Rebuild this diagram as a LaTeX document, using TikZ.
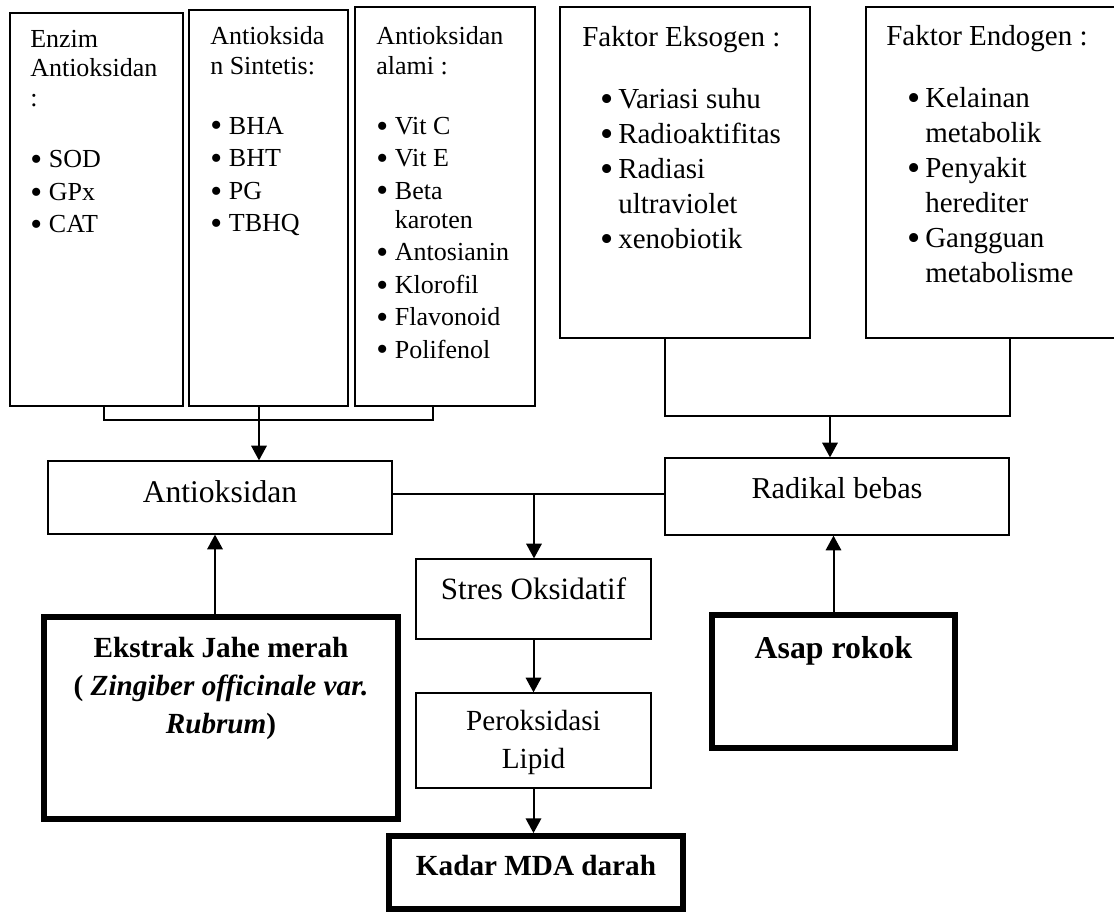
\documentclass[tikz,border=0pt]{standalone}
\usepackage{fontspec}
\setmainfont{Liberation Serif}
\usetikzlibrary{arrows.meta}
\newcommand{\itm}[1][14pt]{\makebox[#1][l]{\raisebox{-0.11em}{\scalebox{1.3}{\textbullet}}}}
\tikzset{
	kotak/.style 2 args={draw, line width=0.9pt, inner sep=0pt, minimum width=#1*0.75pt, minimum height=#2*0.75pt},
	tebal/.style 2 args={draw, line width=4.3pt, inner sep=0pt, minimum width=#1*0.75pt, minimum height=#2*0.75pt},
	teks/.style={inner sep=0pt, align=left},
	garis/.style={line width=0.8pt},
	panah/.style={line width=1.5pt, -{Triangle[length=11pt,width=11.5pt]}}
}

\begin{document}
\begin{tikzpicture}[x=0.75pt, y=-0.75pt]
			%%%%% START %%%%%
			\useasboundingbox (0,0) rectangle (1114,913);
			
			% kotak atas
			\node[kotak={173}{393}] (enzim) at (96.5,209.5) {};
			\node[kotak={159}{396}] (sintetis) at (268.5,208) {};
			\node[kotak={180}{399}] (alami) at (445,206.5) {};
			\node[kotak={250}{331}] (eksogen) at (685,172.5) {};
			\node[kotak={262}{331}] (endogen) at (997,172.5) {};
			
			% (base = baris terakhir)
			\node[teks, anchor=base west, font=\fontsize{19.5pt}{22pt}\selectfont] (enzim-t) at (30,233)
				{Enzim\\Antioksidan\\:\\[24pt]\itm SOD\\[2.5pt]\itm GPx\\[2.5pt]\itm CAT};
			\node[teks, anchor=base west, font=\fontsize{19.5pt}{22pt}\selectfont] (sintetis-t) at (210,232)
				{Antioksida\\n Sintetis:\\[23pt]\itm BHA\\[2.5pt]\itm BHT\\[2.5pt]\itm PG\\[2.5pt]\itm TBHQ};
			\node[teks, anchor=base west, font=\fontsize{19.5pt}{22pt}\selectfont] (alami-t) at (376,358)
				{Antioksidan\\alami :\\[23pt]\itm Vit C\\[2.3pt]\itm Vit E\\[2.3pt]\itm Beta\\\hspace*{14pt}karoten\\[2.3pt]\itm Antosianin\\[2.3pt]\itm Klorofil\\[2.3pt]\itm Flavonoid\\[2.3pt]\itm Polifenol};
			\node[teks, anchor=base west, font=\fontsize{21.75pt}{26.25pt}\selectfont] (eksogen-t) at (582,248)
				{Faktor Eksogen :\\[20pt]\hspace*{14pt}\itm[13pt]Variasi suhu\\\hspace*{14pt}\itm[13pt]Radioaktifitas\\\hspace*{14pt}\itm[13pt]Radiasi\\\hspace*{27pt}ultraviolet\\\hspace*{14pt}\itm[13pt]xenobiotik};
			\node[teks, anchor=base west, font=\fontsize{21.75pt}{26.25pt}\selectfont] (endogen-t) at (886,282)
				{Faktor Endogen :\\[20pt]\hspace*{15.75pt}\itm[13.5pt]Kelainan\\\hspace*{29.25pt}metabolik\\\hspace*{15.75pt}\itm[13.5pt]Penyakit\\\hspace*{29.25pt}herediter\\\hspace*{15.75pt}\itm[13.5pt]Gangguan\\\hspace*{29.25pt}metabolisme};
			
			% kotak tengah
			\node[kotak={344}{73}] (antiok) at (220,497.5) {};
			\node[kotak={344}{77}] (radikal) at (837,496.5) {};
			\node[kotak={235}{80}] (stres) at (533.5,599) {};
			\node[kotak={235}{95}] (perok) at (533.5,740.5) {};
			\node[tebal={354}{202}] (ekstrak) at (221,718) {};
			\node[tebal={243}{133}] (asap) at (833.5,681.5) {};
			\node[tebal={294}{73}] (kadar) at (536,872.5) {};
			
			\node[teks, anchor=base, font=\fontsize{23.7pt}{28pt}\selectfont] (antiok-t) at (220,502) {Antioksidan};
			\node[teks, anchor=base, font=\fontsize{22.75pt}{27pt}\selectfont] (radikal-t) at (837,498) {Radikal bebas};
			\node[teks, anchor=base, font=\fontsize{23.25pt}{27pt}\selectfont] (stres-t) at (533.5,599) {Stres Oksidatif};
			\node[teks, anchor=base, align=center, font=\fontsize{21.9pt}{28.3pt}\selectfont] (perok-t) at (533.5,768) {Peroksidasi\\Lipid};
			\node[teks, anchor=base, align=center, font=\fontsize{21.9pt}{28.5pt}\selectfont\bfseries] (ekstrak-t) at (221,733)
				{Ekstrak Jahe merah\\( \textit{Zingiber officinale var.}\\\textit{Rubrum})};
			\node[teks, anchor=base, font=\fontsize{23.85pt}{28pt}\selectfont\bfseries] (asap-t) at (833.5,658) {Asap rokok};
			\node[teks, anchor=base, font=\fontsize{21.9pt}{27pt}\selectfont\bfseries] (kadar-t) at (536,875) {Kadar MDA darah};
			
			% penghubung
			\coordinate (kiri-a) at (104,420);
			\coordinate (kiri-b) at (259,420);
			\coordinate (kiri-c) at (433,420);
			\draw[garis] (kiri-a |- enzim.south) -- (kiri-a) -- (kiri-c) -- (kiri-c |- alami.south);
			\draw[panah] (kiri-b |- sintetis.south) -- (kiri-b |- antiok.north);
			
			\coordinate (kanan-a) at (665,416);
			\coordinate (kanan-b) at (830,416);
			\coordinate (kanan-c) at (1010,416);
			\draw[garis] (kanan-a |- eksogen.south) -- (kanan-a) -- (kanan-c) -- (kanan-c |- endogen.south);
			\draw[panah] (kanan-b) -- (kanan-b |- radikal.north);
			
			\coordinate (tengah) at (534,494);
			\draw[garis] (antiok.east |- tengah) -- (radikal.west |- tengah);
			\draw[panah] (tengah) -- (tengah |- stres.north);
			\draw[panah] (stres.south) -- (perok.north);
			\draw[panah] (perok.south) -- (perok.south |- kadar.north);
			
			\draw[panah] ([xshift=-4.5pt]ekstrak.north) -- ([xshift=-4.5pt]ekstrak.north |- antiok.south);
			\draw[panah] (asap.north) -- (asap.north |- radikal.south);
			%%%%% END %%%%%
\end{tikzpicture}
\end{document}
